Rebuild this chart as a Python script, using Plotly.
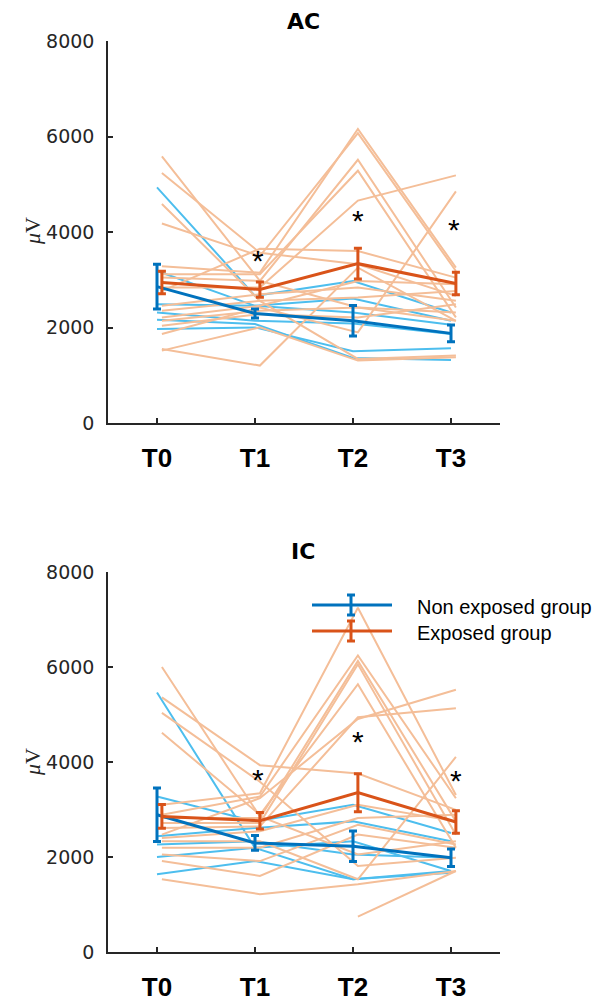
import plotly.graph_objects as go

# ---------------- data ----------------
timepoints = ["T0", "T1", "T2", "T3"]
x_pos = [1, 2, 3, 4]

# AC panel: individual subjects (µV)
ac_nonexposed_subjects = [
    [4936, 2663, 2975, 2315],
    [3184, 2454, 2607, 2141],
    [2489, 2454, 2315, 2058],
    [2315, 2141, 2086, 1863],
    [2162, 2072, 1363, 1321],
    [1967, 2002, 1502, 1564],
]
ac_exposed_subjects = [
    [5582, 2975, 2419, 2141],
    [5235, 3566, 3323, 2663],
    [4588, 2558, 1342, 1411],
    [4178, 3497, 6069, 3184],
    [3281, 3149, 6159, 3254],
    [3114, 3114, 5284, 2211],
    [3045, 2975, 5513, 2419],
    [2836, 2836, 4658, 5186],
    [2767, 3650, 3601, 3045],
    [2454, 2697, 2836, 2558],
    [2350, 2558, 2628, 2767],
    [2211, 2454, 2975, 2906],
    [2141, 2350, 2419, 2315],
    [2037, 2280, 2211, 2489],
    [1863, 2419, 1898, 4852],
    [1550, 1203, 3254, 2141],
    [1516, 2002, 1307, 1376],
]
ac_nonexposed_mean = [2857, 2294, 2141, 1877]
ac_nonexposed_err = [469, 94, 320, 177]
ac_exposed_mean = [2941, 2795, 3337, 2920]
ac_exposed_err = [236, 160, 323, 236]
ac_star_x = [2.03, 3.05, 4.03]
ac_star_y = [3350, 4170, 4000]

# IC panel: individual subjects (µV)
ic_nonexposed_subjects = [
    [5464, 2193, 1531, 1705],
    [3272, 2750, 3098, 2506],
    [2436, 2610, 2750, 2332],
    [2262, 2332, 2053, 1984],
    [1998, 2193, 2332, 1705],
    [1636, 1914, 1531, 1671],
]
ic_exposed_subjects = [
    [6000, 2854, 2053, 2332],
    [5360, 3933, 3759, 2993],
    [5033, 3585, 1810, 1984],
    [4615, 2889, 5638, 2193],
    [3098, 3341, 7246, 3306],
    [2889, 3272, 6244, 3237],
    [2819, 2819, 6126, 2750],
    [2715, 2715, 6056, 2471],
    [2610, 2645, 4942, 5130],
    [2471, 3237, 4907, 5520],
    [2332, 2332, 1531, 4107],
    [2193, 2193, 2819, 2889],
    [2053, 1914, 2680, 2262],
    [1914, 1601, 2471, 2193],
    [1531, 1218, 1427, 1705],
    [2402, 2541, 3098, 2750],
    [None, None, 745, 1705],
]
ic_nonexposed_mean = [2889, 2297, 2227, 1984]
ic_nonexposed_err = [564, 157, 320, 184]
ic_exposed_mean = [2854, 2763, 3355, 2736]
ic_exposed_err = [251, 174, 400, 237]
ic_star_x = [2.03, 3.05, 4.05]
ic_star_y = [3570, 4370, 3550]

group_names = ["Non exposed group", "Exposed group"]
y_ticks = [0, 2000, 4000, 6000, 8000]

# ---------------- style ----------------
PAGE_OFF = 8          # default body margin of the html page
W, H = 603 - PAGE_OFF, 998 - PAGE_OFF
BLUE = "#0072BD"
ORANGE = "#D95319"
CYAN = "#4DBEEE"
PEACH = "#F4BE98"
AXC = "#262626"
OFFSET = 0.05

fig = go.Figure()


def px_x(p):
    return (p - PAGE_OFF) / W


def px_y(p):
    return 1 - (p - PAGE_OFF) / H


def add_panel(xa, ya, non_subj, exp_subj, non_mean, non_err, exp_mean, exp_err):
    xe = [v + OFFSET for v in x_pos]
    for s in non_subj:
        fig.add_trace(go.Scatter(x=x_pos, y=s, mode="lines", xaxis=xa, yaxis=ya,
                                 line=dict(color=CYAN, width=2), showlegend=False,
                                 hoverinfo="skip"))
    for s in exp_subj:
        fig.add_trace(go.Scatter(x=xe, y=s, mode="lines", xaxis=xa, yaxis=ya,
                                 line=dict(color=PEACH, width=2), showlegend=False,
                                 hoverinfo="skip", connectgaps=False))
    fig.add_trace(go.Scatter(x=x_pos, y=non_mean, mode="lines", xaxis=xa, yaxis=ya,
                             line=dict(color=BLUE, width=3), name=group_names[0],
                             showlegend=False,
                             error_y=dict(type="data", array=non_err, color=BLUE,
                                          thickness=3, width=4)))
    fig.add_trace(go.Scatter(x=xe, y=exp_mean, mode="lines", xaxis=xa, yaxis=ya,
                             line=dict(color=ORANGE, width=3), name=group_names[1],
                             showlegend=False,
                             error_y=dict(type="data", array=exp_err, color=ORANGE,
                                          thickness=3, width=4)))


add_panel("x", "y", ac_nonexposed_subjects, ac_exposed_subjects,
          ac_nonexposed_mean, ac_nonexposed_err, ac_exposed_mean, ac_exposed_err)
add_panel("x2", "y2", ic_nonexposed_subjects, ic_exposed_subjects,
          ic_nonexposed_mean, ic_nonexposed_err, ic_exposed_mean, ic_exposed_err)

# significance stars
for xa, ya, sx, sy in [("x", "y", ac_star_x, ac_star_y), ("x2", "y2", ic_star_x, ic_star_y)]:
    fig.add_trace(go.Scatter(x=sx, y=sy, mode="text", text=["*"] * len(sx),
                             xaxis=xa, yaxis=ya, showlegend=False, hoverinfo="skip",
                             textposition="middle center",
                             textfont=dict(family="Liberation Sans", size=30, color="black")))

xdom = [px_x(108), px_x(500)]
common_x = dict(range=[0.5, 4.5], tickvals=x_pos, ticktext=timepoints,
                showline=True, linecolor=AXC, linewidth=1.5, ticks="inside",
                ticklen=5, tickwidth=1.5, tickcolor=AXC, showgrid=False, zeroline=False,
                tickfont=dict(family="Liberation Sans", size=26, color="black", weight="bold"),
                ticklabelstandoff=11, domain=xdom, automargin=False)
common_y = dict(range=[0, 8000], tickvals=y_ticks, showline=True, linecolor=AXC,
                linewidth=1.5, ticks="inside", ticklen=5, tickwidth=1.5, tickcolor=AXC,
                showgrid=False, zeroline=False,
                tickfont=dict(family="DejaVu Sans", size=19, color=AXC),
                ticklabelstandoff=8, automargin=False)

fig.update_layout(
    width=W, height=H, margin=dict(l=0, r=0, t=0, b=0, pad=0, autoexpand=False),
    paper_bgcolor="white", plot_bgcolor="white", showlegend=False,
    xaxis=dict(common_x, anchor="y"),
    yaxis=dict(common_y, anchor="x", domain=[px_y(423), px_y(41)]),
    xaxis2=dict(common_x, anchor="y2"),
    yaxis2=dict(common_y, anchor="x2", domain=[px_y(952), px_y(572)]),
)

annotations = []
# panel titles
for txt, yp in [("AC", 22), ("IC", 551)]:
    annotations.append(dict(text=txt, x=px_x(303), y=px_y(yp), xref="paper", yref="paper",
                            showarrow=False, xanchor="center", yanchor="middle",
                            font=dict(family="DejaVu Sans", size=22, color="black", weight="bold")))
# y-axis labels
for yp in [231, 762]:
    annotations.append(dict(text="<i>μ</i>V", x=px_x(32), y=px_y(yp), xref="paper", yref="paper",
                            showarrow=False, xanchor="center", yanchor="middle", textangle=-90,
                            font=dict(family="Liberation Serif", size=22, color=AXC)))

# custom legend in lower panel
shapes = []
for i, (col, yl) in enumerate([(BLUE, 605), (ORANGE, 631)]):
    shapes.append(dict(type="line", xref="paper", yref="paper",
                       x0=px_x(312), x1=px_x(392), y0=px_y(yl), y1=px_y(yl),
                       line=dict(color=col, width=3)))
    shapes.append(dict(type="line", xref="paper", yref="paper",
                       x0=px_x(351), x1=px_x(351), y0=px_y(yl - 10), y1=px_y(yl + 10),
                       line=dict(color=col, width=3)))
    for yc in (yl - 10, yl + 10):
        shapes.append(dict(type="line", xref="paper", yref="paper",
                           x0=px_x(347), x1=px_x(355), y0=px_y(yc), y1=px_y(yc),
                           line=dict(color=col, width=3)))
    annotations.append(dict(text=group_names[i], x=px_x(415), y=px_y(yl + 2), xref="paper",
                            yref="paper", showarrow=False, xanchor="left", yanchor="middle",
                            font=dict(family="Liberation Sans", size=20, color="black")))

fig.update_layout(annotations=annotations, shapes=shapes)

fig.write_html("out.html")
